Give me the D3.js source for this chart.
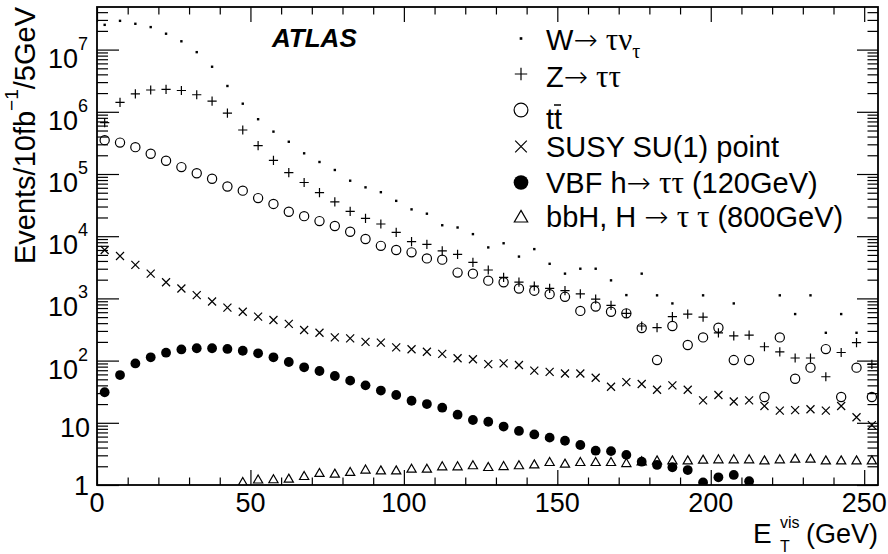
<!DOCTYPE html>
<html><head><meta charset="utf-8">
<script src="https://cdn.jsdelivr.net/npm/d3@7/dist/d3.min.js"></script>
<style>body{margin:0;background:#fff}svg{display:block}</style>
</head><body><svg id="c" width="888" height="554"></svg>
<script>
// ---------- data (bin centres in GeV, events / 10 fb^-1 / 5 GeV) ----------
const binCenters = [2.5,7.5,12.5,17.5,22.5,27.5,32.5,37.5,42.5,47.5,52.5,57.5,62.5,67.5,72.5,77.5,82.5,87.5,92.5,97.5,
  102.5,107.5,112.5,117.5,122.5,127.5,132.5,137.5,142.5,147.5,152.5,157.5,162.5,167.5,172.5,177.5,182.5,187.5,192.5,197.5,
  202.5,207.5,212.5,217.5,222.5,227.5,232.5,237.5,242.5,247.5,252.5];
const wTauNu = [2.5e7,2.9e7,2.6e7,2.3e7,1.8e7,1.36e7,9.1e6,5.3e6,2.6e6,1.35e6,7.6e5,4.8e5,3.3e5,2.15e5,1.56e5,1.16e5,7.8e4,6.1e4,5.1e4,3.7e4,
  2.7e4,2.3e4,1.5e4,1.38e4,1.08e4,6600,7700,4700,6200,3600,2500,3000,3000,1950,1130,2500,1120,830,null,1120,
  null,830,null,null,1120,560,1120,280,560,280,null];
const zTauTau = [6.7e5,1.42e6,1.94e6,2.24e6,2.3e6,2.2e6,1.88e6,1.49e6,9.5e5,5.1e5,2.85e5,1.66e5,1.05e5,7.3e4,5.0e4,3.56e4,2.5e4,1.94e4,1.57e4,1.15e4,
  8200,7400,5800,5100,3800,2860,2180,1820,1570,1450,1330,1180,970,775,575,360,339,510,560,500,
  280,250,257,167,138,110,110,55,135,194,87];
const ttbar = [3.5e5,3.2e5,2.7e5,2.12e5,1.63e5,1.29e5,1.03e5,8.4e4,6.3e4,5.4e4,4.1e4,3.3e4,2.47e4,2.1e4,1.75e4,1.46e4,1.18e4,9000,7000,6000,
  5500,4400,4200,2600,2500,1930,1820,1440,1330,1170,1060,630,740,610,575,333,102,360,178,236,
  338,102,102,26,236,51,77,153,26,77,26];
const susySU1 = [6000,4800,3450,2500,1820,1440,1130,890,710,610,510,450,390,310,280,236,228,200,194,163,
  152,139,128,109,105,88,90,85,69,66,62,62,53,38,45,42,34,40,34,23,
  28,22,23,18.6,15.7,16,16.5,15.7,18.6,12.3,9.2];
const vbfH120 = [31,58.6,90,113,134,151,158,158,154,144,131,113,95,78,68,56.5,47.6,40,33,28,
  22.6,20,17.5,13.5,11.1,10.4,8.7,7.4,6.5,5.77,5.15,4.4,3.56,3.5,3.05,2.37,2.1,1.93,1.74,1.1,
  1.33,1.45,1.15,null,null,null,null,null,null,null,null];
const bbH800 = [null,null,null,null,null,null,null,null,null,1.13,1.24,1.25,1.28,1.41,1.58,1.54,1.64,1.79,1.74,1.74,
  1.85,1.85,2.02,2.02,2.1,1.97,2.04,2.1,2.17,2.37,2.23,2.37,2.37,2.37,2.28,2.43,2.52,2.52,2.52,2.59,
  2.62,2.62,2.62,2.52,2.62,2.68,2.68,2.52,2.52,2.52,2.52];

const xTicks = [0,50,100,150,200,250];
const xTickLabels = ["0","50","100","150","200","250"];
const yDecades = [1,10,100,1e3,1e4,1e5,1e6,1e7];
const yExponents = ["","","2","3","4","5","6","7"];
const legendLabels = ["W→ τν_τ","Z→ ττ","tt̄","SUSY SU(1) point","VBF h→ ττ (120GeV)","bbH, H → ττ (800GeV)"];

// ---------- layout ----------
const L = 97, R = 878, T = 7, B = 485;
const svg = d3.select("#c");
const x = d3.scaleLinear().domain([0, 254.5]).range([L, R]);
const y = d3.scaleLog().domain([1, 4.84e7]).range([B, T]);
const SANS = "'Liberation Sans', Arial, Helvetica, sans-serif";
const SERIF = "'Liberation Serif', 'Times New Roman', serif";

svg.append("defs").append("clipPath").attr("id","clip")
  .append("rect").attr("x",L).attr("y",T).attr("width",R-L).attr("height",B-T);

// minor ticks
const xMinor = [];
for (let v = 10; v < 255; v += 10) if (v % 50 !== 0) xMinor.push(v);
const yMinor = [];
for (const d of yDecades) for (let k = 2; k <= 9; k++) if (d*k < 4.84e7) yMinor.push(d*k);

function tickAxis(gen, sel, vals, size){
  sel.call(gen.tickValues(vals).tickSize(size).tickFormat(""));
  sel.select(".domain").remove();
  sel.selectAll(".tick line").attr("stroke","#000").attr("stroke-width",1.2);
}
tickAxis(d3.axisBottom(x), svg.append("g").attr("transform",`translate(0,${B})`), xTicks, -15);
tickAxis(d3.axisBottom(x), svg.append("g").attr("transform",`translate(0,${B})`), xMinor, -7.5);
tickAxis(d3.axisTop(x), svg.append("g").attr("transform",`translate(0,${T})`), xTicks, -15);
tickAxis(d3.axisTop(x), svg.append("g").attr("transform",`translate(0,${T})`), xMinor, -7.5);
tickAxis(d3.axisLeft(y), svg.append("g").attr("transform",`translate(${L},0)`), yDecades, -22);
tickAxis(d3.axisLeft(y), svg.append("g").attr("transform",`translate(${L},0)`), yMinor, -11);
tickAxis(d3.axisRight(y), svg.append("g").attr("transform",`translate(${R},0)`), yDecades, -21);
tickAxis(d3.axisRight(y), svg.append("g").attr("transform",`translate(${R},0)`), yMinor, -10.5);

// frame
svg.append("rect").attr("x",L).attr("y",T).attr("width",R-L).attr("height",B-T)
  .attr("fill","none").attr("stroke","#000").attr("stroke-width",1.8);

// x tick labels
svg.append("g").selectAll("text").data(xTicks).join("text")
  .attr("x", d => x(d)).attr("y", B + 27)
  .attr("text-anchor","middle").attr("font-family",SANS).attr("font-size",27)
  .text((d,i) => xTickLabels[i]);

// y tick labels
const yl = svg.append("g").attr("font-family",SANS);
yDecades.forEach((d,i) => {
  const ty = y(d);
  if (i === 0) {
    yl.append("text").attr("x",89).attr("y",ty+10).attr("text-anchor","end").attr("font-size",27).text("1");
  } else if (i === 1) {
    yl.append("text").attr("x",90).attr("y",ty+14).attr("text-anchor","end").attr("font-size",27).text("10");
  } else {
    const t = yl.append("text").attr("x",88).attr("y",ty+18).attr("text-anchor","end").attr("font-size",27);
    t.append("tspan").text("10");
    t.append("tspan").attr("font-size",18).attr("dy",-18).text(yExponents[i]);
  }
});

// axis titles
const yt = svg.append("text").attr("transform","translate(35,7) rotate(-90)")
  .attr("text-anchor","end").attr("font-family",SANS).attr("font-size",29);
yt.append("tspan").text("Events/10fb");
yt.append("tspan").attr("font-size",19).attr("dy",-17).text("−1");
yt.append("tspan").attr("dy",17).text("/5GeV");

svg.append("text").attr("x",753).attr("y",543).attr("font-family",SANS).attr("font-size",28).text("E");
svg.append("text").attr("x",780).attr("y",528).attr("font-family",SANS).attr("font-size",16).text("vis");
svg.append("text").attr("x",780).attr("y",552).attr("font-family",SANS).attr("font-size",16).text("T");
svg.append("text").attr("x",878).attr("y",543).attr("text-anchor","end").attr("font-family",SANS).attr("font-size",27).text("(GeV)");

// ATLAS
svg.append("text").attr("x",272).attr("y",47).attr("font-family",SANS).attr("font-size",26)
  .attr("font-weight","bold").attr("font-style","italic").text("ATLAS");

// ---------- markers ----------
const markers = {
  dot:    (g,s) => g.append("rect").attr("x",-1.2*s).attr("y",-1.2*s).attr("width",2.4*s).attr("height",2.4*s).attr("fill","#000"),
  plus:   (g,s) => g.append("path").attr("d",`M${-4.6*s},0H${4.6*s}M0,${-4.6*s}V${4.6*s}`).attr("stroke","#000").attr("stroke-width",1.2).attr("fill","none"),
  circle: (g,s) => g.append("circle").attr("r",4.6*s).attr("fill","none").attr("stroke","#000").attr("stroke-width",1.2),
  cross:  (g,s) => g.append("path").attr("d",`M${-4*s},${-4*s}L${4*s},${4*s}M${-4*s},${4*s}L${4*s},${-4*s}`).attr("stroke","#000").attr("stroke-width",1.2).attr("fill","none"),
  full:   (g,s) => g.append("circle").attr("r",4.9*s).attr("fill","#000"),
  tri:    (g,s) => g.append("path").attr("d",`M0,${-4.2*s}L${4.6*s},${3.8*s}L${-4.6*s},${3.8*s}Z`).attr("fill","none").attr("stroke","#000").attr("stroke-width",1.2)
};
const series = [
  {vals: wTauNu,  m: "dot"},
  {vals: zTauTau, m: "plus"},
  {vals: ttbar,   m: "circle"},
  {vals: susySU1, m: "cross"},
  {vals: vbfH120, m: "full"},
  {vals: bbH800,  m: "tri"}
];
const plot = svg.append("g").attr("clip-path","url(#clip)");
series.forEach(s => {
  const pts = binCenters.map((c,i) => ({c, v: s.vals[i]})).filter(p => p.v != null && p.v > 0);
  plot.append("g").selectAll("g").data(pts).join("g")
    .attr("transform", p => `translate(${x(p.c)},${y(p.v)})`)
    .each(function(){ markers[s.m](d3.select(this), 1); });
});

// ---------- legend ----------
const legMarkerY = [38.5, 74, 110, 146.5, 182.5, 216.5];
const legTextY = [50, 86.7, 129, 156.7, 192.7, 226.7];
const legScale = [1.1, 1.35, 1.5, 1.45, 1.5, 1.45];
const leg = svg.append("g");
series.forEach((s,i) => {
  const g = leg.append("g").attr("transform",`translate(521,${legMarkerY[i]})`);
  markers[s.m](g, legScale[i]);
});
function legText(i){
  return leg.append("text").attr("x",546).attr("y",legTextY[i]).attr("font-family",SANS).attr("font-size",29);
}
function arrow(t){ t.append("tspan").attr("font-family","'DejaVu Sans', sans-serif").attr("font-size",29).attr("font-weight","200").text("→"); }
function taus(t, str){ t.append("tspan").attr("font-family",SERIF).attr("font-size",31).text(str); }
{ const t = legText(0); t.append("tspan").text("W"); arrow(t); t.append("tspan").text(" ");
  taus(t,"τν"); t.append("tspan").attr("font-family",SERIF).attr("font-size",20).attr("dy",8).text("τ"); }
{ const t = legText(1); t.append("tspan").text("Z"); arrow(t); t.append("tspan").text(" "); taus(t,"ττ"); }
{ legText(2).text("tt");
  leg.append("line").attr("x1",554).attr("x2",561).attr("y1",105).attr("y2",105).attr("stroke","#000").attr("stroke-width",1.5); }
{ legText(3).text(legendLabels[3]); }
{ const t = legText(4); t.append("tspan").text("VBF h"); arrow(t); t.append("tspan").text(" ");
  taus(t,"ττ"); t.append("tspan").text(" (120GeV)"); }
{ const t = legText(5); t.append("tspan").text("bbH, H "); arrow(t); t.append("tspan").text(" ");
  taus(t,"τ τ"); t.append("tspan").text(" (800GeV)"); }
</script></body></html>
